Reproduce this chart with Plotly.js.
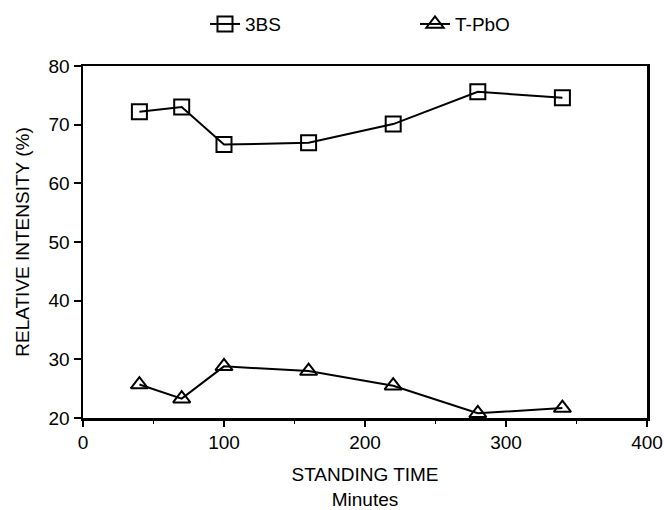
<!DOCTYPE html>
<html>
<head>
<meta charset="utf-8">
<script src="https://cdn.plot.ly/plotly-3.0.1.min.js"></script>
<style>html,body{margin:0;padding:0;background:#fff;}#chart{width:664px;height:510px;}</style>
</head>
<body>
<div id="chart"></div>
<script>
const standingTime = [40, 70, 100, 160, 220, 280, 340];
const bs3 = [72.2, 73.0, 66.6, 66.9, 70.1, 75.6, 74.6];
const tpbo = [25.7, 23.3, 28.8, 28.0, 25.5, 20.8, 21.7];
const seriesNames = ["3BS", "T-PbO"];

const font = {family: "Liberation Sans, Arial, sans-serif", size: 19, color: "#000"};

const traces = [
  {x: standingTime, y: bs3, name: seriesNames[0], mode: "lines+markers",
   line: {color: "#000", width: 2},
   marker: {symbol: "square-open", size: 15, color: "#000", line: {width: 2, color: "#000"}}},
  {x: standingTime, y: tpbo, name: seriesNames[1], mode: "lines+markers",
   line: {color: "#000", width: 2},
   marker: {symbol: "triangle-up-open", size: 15, color: "#000", line: {width: 2, color: "#000"}}}
];

const layout = {
  width: 664, height: 510,
  margin: {l: 83, r: 17, t: 66, b: 92},
  paper_bgcolor: "#fff", plot_bgcolor: "#fff",
  font: font,
  showlegend: true,
  legend: {orientation: "h", xref: "container", x: 205/664, xanchor: "left",
           yref: "container", y: 0.99, yanchor: "top",
           font: font, entrywidth: 165, entrywidthmode: "pixels", traceorder: "normal", bgcolor: "rgba(0,0,0,0)"},
  xaxis: {
    range: [0, 400], tickvals: [0, 100, 200, 300, 400], ticks: "outside", ticklen: 6, tickwidth: 2,
    tickcolor: "#000", showline: true, linecolor: "#000", linewidth: 2.5, mirror: true,
    showgrid: false, zeroline: false, tickfont: font,
    minor: {tickvals: [50, 150, 250, 350], ticks: "outside", ticklen: 3, tickwidth: 1.5, tickcolor: "#000", showgrid: false},
    title: {text: "STANDING TIME<br>Minutes", font: font, standoff: 20}
  },
  yaxis: {
    range: [20, 80], tickvals: [20, 30, 40, 50, 60, 70, 80], ticks: "outside", ticklen: 7, tickwidth: 2,
    tickcolor: "#000", showline: true, linecolor: "#000", linewidth: 2.5, mirror: true,
    showgrid: false, zeroline: false, tickfont: font,
    title: {text: "RELATIVE INTENSITY (%)", font: font, standoff: 14}
  }
};

Plotly.newPlot("chart", traces, layout, {displayModeBar: false, staticPlot: true});
</script>
</body>
</html>
